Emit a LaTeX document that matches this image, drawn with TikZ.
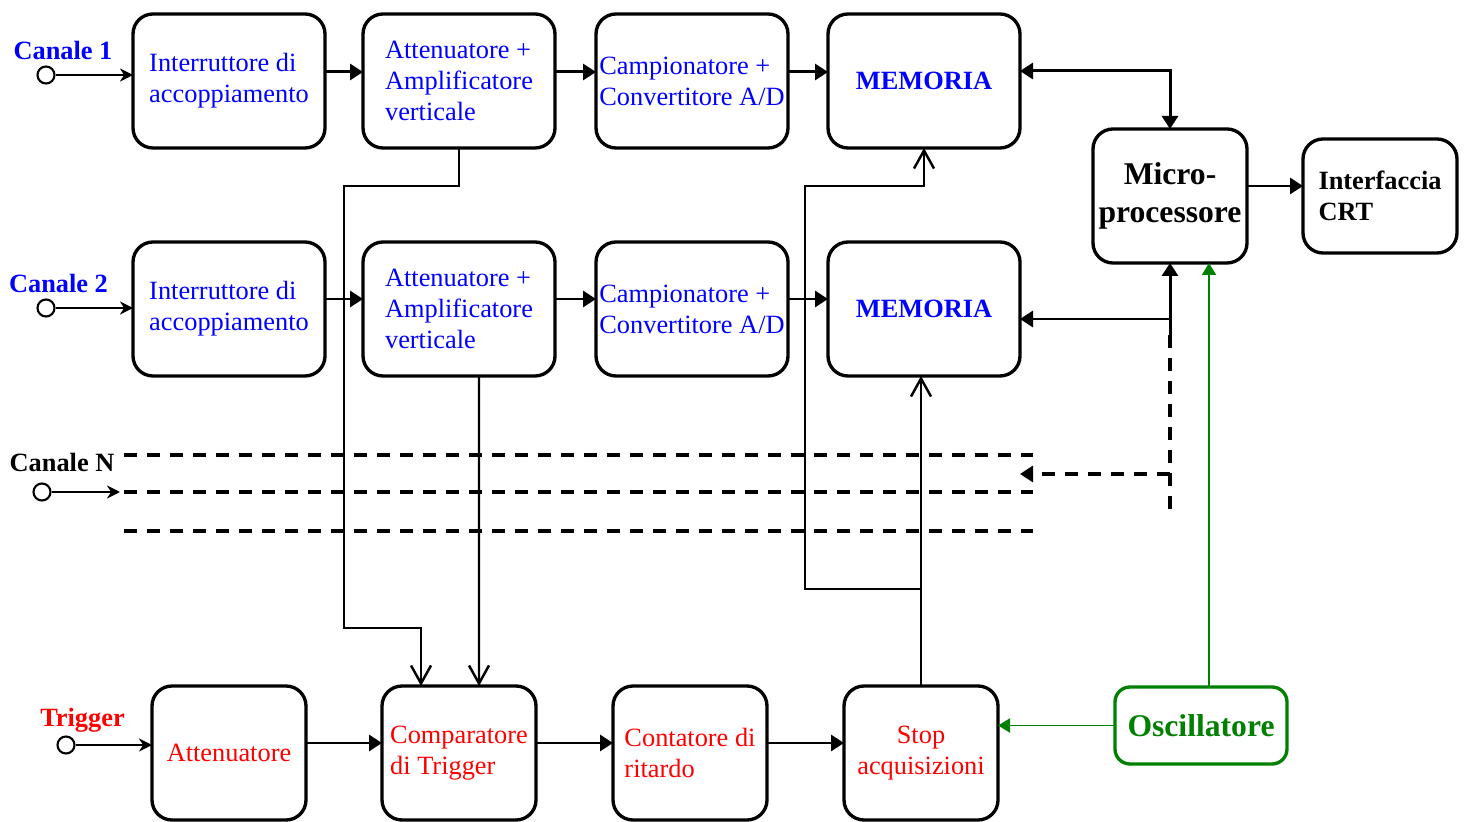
\documentclass[tikz,border=0pt]{standalone}
\usepackage{fontspec}
\setmainfont{Liberation Serif}
\usepackage{xcolor}
\definecolor{chanblue}{RGB}{0,0,255}
\definecolor{trigred}{RGB}{255,0,0}
\definecolor{oscgreen}{RGB}{0,128,0}
\usepackage{tikz}
\usetikzlibrary{arrows.meta, positioning, calc}
\newcommand{\blockfont}{\fontsize{15}{17.6}\selectfont}
\newcommand{\bigblockfont}{\fontsize{18}{21.5}\selectfont}
\tikzset{
  block/.style={
    rectangle, rounded corners=0.4cm, draw=black, line width=1.9pt,
    minimum width=3.84cm, minimum height=2.68cm, outer sep=0pt,
    inner xsep=1pt, align=left, font=\blockfont
  },
  chanblock/.style={block, text=chanblue},
  memblock/.style={block, text=chanblue, font=\blockfont\bfseries},
  trigblock/.style={block, minimum width=3.08cm, text=trigred},
  cpublock/.style={block, minimum width=3.08cm, align=center, font=\bigblockfont\bfseries},
  crtblock/.style={block, minimum width=3.08cm, minimum height=2.28cm, font=\blockfont\bfseries},
  oscblock/.style={
    block, draw=oscgreen, text=oscgreen, rounded corners=0.3cm,
    minimum width=3.44cm, minimum height=1.54cm, font=\bigblockfont\bfseries
  },
  inport/.style={circle, draw, fill=white, line width=1.2pt, minimum size=0.34cm, inner sep=0pt},
  portlabel/.style={font=\blockfont\bfseries},
  arrow/.style={line width=1.7pt, -{Triangle[length=0.26cm,width=0.32cm]}},
  dualarrow/.style={line width=1.7pt, {Triangle[length=0.26cm,width=0.32cm]}-{Triangle[length=0.26cm,width=0.32cm]}},
  inarrow/.style={line width=1.6pt, -{Stealth[length=0.26cm,width=0.26cm]}},
  link/.style={line width=1.4pt, -{Straight Barb[length=0.36cm,width=0.40cm]}},
  bus/.style={line width=2pt, dash pattern=on 0.26cm off 0.2cm},
  clock/.style={line width=1.1pt, draw=oscgreen, -{Triangle[length=0.24cm,width=0.28cm]}},
}

\begin{document}
\begin{tikzpicture}
  \useasboundingbox (0,0) rectangle (29.36,16.42);

  % canale 1
  \node (ia1)  [chanblock] at (4.58,14.80)     {Interruttore di\\accoppiamento};
  \node (aa1)  [chanblock, right=0.76cm of ia1] {Attenuatore +\\Amplificatore\\verticale};
  \node (ca1)  [chanblock, right=0.82cm of aa1] {Campionatore +\\Convertitore A/D};
  \node (mem1) [memblock,  right=0.80cm of ca1] {MEMORIA};

  % canale 2
  \node (ia2)  [chanblock, below=1.88cm of ia1]  {Interruttore di\\accoppiamento};
  \node (aa2)  [chanblock, below=1.88cm of aa1]  {Attenuatore +\\Amplificatore\\verticale};
  \node (ca2)  [chanblock, below=1.88cm of ca1]  {Campionatore +\\Convertitore A/D};
  \node (mem2) [memblock,  below=1.88cm of mem1] {MEMORIA};

  \node (cpu)  [cpublock] at (23.40,12.50)     {Micro-\\processore};
  \node (crt)  [crtblock, right=1.12cm of cpu] {Interfaccia\\CRT};

  % trigger
  \node (att)  [trigblock] at (4.58,1.36)                     {Attenuatore};
  \node (comp) [trigblock, right=1.52cm of att]               {Comparatore\\di Trigger};
  \node (cnt)  [trigblock, right=1.54cm of comp]              {Contatore di\\ritardo};
  \node (stop) [trigblock, align=center, right=1.54cm of cnt] {Stop\\acquisizioni};
  \node (osc)  [oscblock] at (24.02,1.91)                     {Oscillatore};

  % ingressi
  \node (in1) [inport] at (0.92,14.92) {};
  \node (lb1) [portlabel, text=chanblue] at (1.26,15.42) {Canale 1};
  \node (in2) [inport] at (0.92,10.26) {};
  \node (lb2) [portlabel, text=chanblue] at (1.17,10.76) {Canale 2};
  \node (inN) [inport] at (0.84,6.58) {};
  \node (lbN) [portlabel] at (1.24,7.18) {Canale N};
  \node (inT) [inport] at (1.32,1.52) {};
  \node (lbT) [portlabel, text=trigred] at (1.65,2.02) {Trigger};

  \coordinate (busN)   at (2.40,6.58);
  \coordinate (cpubus) at (23.40,10.04);
  \coordinate (cpuN)   at (23.40,6.94);

  \draw [inarrow] (in1) -- (in1 -| ia1.west);
  \draw [inarrow] (in2) -- (in2 -| ia2.west);
  \draw [inarrow] (inN) -- (busN);
  \draw [inarrow] (inT) -- (inT -| att.west);

  \draw [arrow] ([yshift=0.18cm]ia1.east) -- ([yshift=0.18cm]aa1.west);
  \draw [arrow] ([yshift=0.18cm]aa1.east) -- ([yshift=0.18cm]ca1.west);
  \draw [arrow] ([yshift=0.18cm]ca1.east) -- ([yshift=0.18cm]mem1.west);
  \draw [arrow] ([yshift=0.20cm]ia2.east) -- ([yshift=0.20cm]aa2.west);
  \draw [arrow] ([yshift=0.20cm]aa2.east) -- ([yshift=0.20cm]ca2.west);
  \draw [arrow] ([yshift=0.20cm]ca2.east) -- ([yshift=0.20cm]mem2.west);

  \draw [dualarrow] ([yshift=0.20cm]mem1.east) -| (cpu.north);
  \draw [arrow] (cpubus) -- (cpu.south);
  \draw [arrow] (cpubus) -- (cpubus -| mem2.east);
  \draw [line width=1.7pt] (cpubus) -- (23.40,9.72);
  \draw [bus] (23.40,9.72) -- (23.40,6.18);
  \draw [bus, -{Triangle[length=0.26cm,width=0.32cm]}] (cpuN) -- (cpuN -| mem2.east);
  \draw [arrow] ([yshift=0.20cm]cpu.east) -- ([yshift=0.20cm]cpu.east -| crt.west);

  \draw [bus] (2.48,7.32) -- (20.66,7.32);
  \draw [bus] (2.48,6.58) -- (20.66,6.58);
  \draw [bus] (2.48,5.80) -- (20.66,5.80);

  \draw [arrow] ([yshift=0.20cm]att.east)  -- ([yshift=0.20cm]comp.west);
  \draw [arrow] ([yshift=0.20cm]comp.east) -- ([yshift=0.20cm]cnt.west);
  \draw [arrow] ([yshift=0.20cm]cnt.east)  -- ([yshift=0.20cm]stop.west);

  \draw [link] (aa1.south) |- (6.88,12.70) -- (6.88,3.86) -| ([xshift=-0.76cm]comp.north);
  \draw [link] ([xshift=0.40cm]aa2.south) -- ([xshift=0.40cm]comp.north);
  \draw [link] (stop.north) -- (stop.north |- mem2.south);
  \draw [link] ([yshift=1.94cm]stop.north) -| (16.10,12.70) -| (mem1.south);

  \draw [clock] ([xshift=0.16cm]osc.north) -- ([xshift=0.16cm]osc.north |- cpu.south);
  \draw [clock] (osc.west) -- (osc.west -| stop.east);
\end{tikzpicture}
\end{document}
